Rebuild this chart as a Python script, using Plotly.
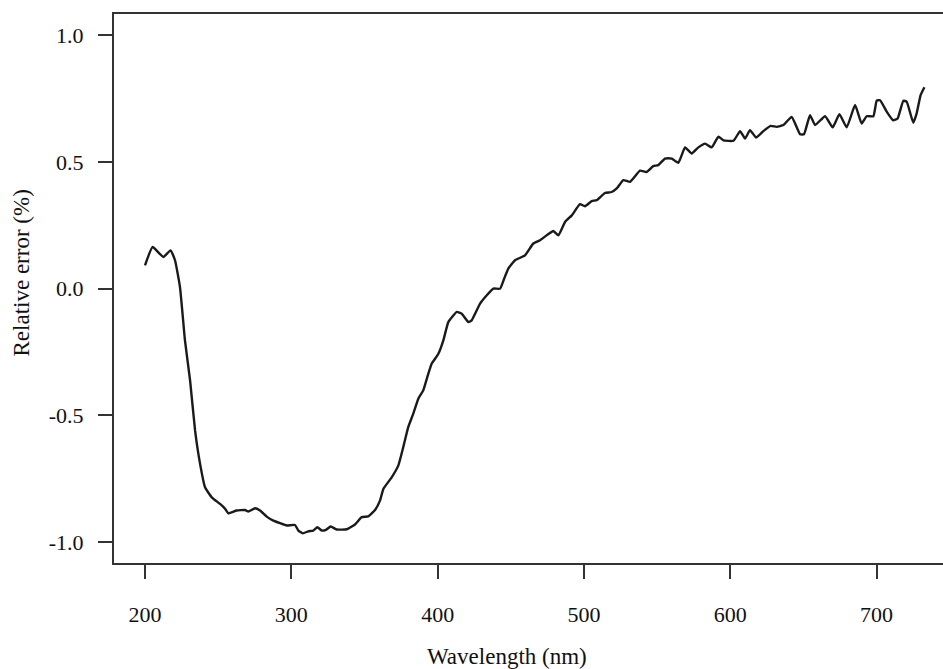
import plotly.graph_objects as go

wavelength = [200, 205.2, 212.5, 217.5, 220.5, 223.9, 227.3, 230.8, 234.2, 237.6, 241, 245.6,
              251.3, 254.7, 256.9, 262.6, 268.4, 270.6, 275.2, 278.6, 283.2, 287.7, 292.3,
              296.9, 302.5, 304.8, 307.8, 311.6, 315, 317.8, 320.8, 323.7, 326.9, 331, 337.9,
              343.5, 348.1, 352.6, 357.2, 360.6, 362.9, 368.6, 373.1, 376.5, 379.9, 383.3,
              386.8, 390.2, 393.6, 395.9, 400.5, 403.9, 407.3, 413.1, 416.5, 421, 423.3, 429,
              433.6, 438.1, 442.7, 445.5, 448.3, 452.9, 459.7, 465.4, 470, 474.5, 479.1, 482.5,
              487.1, 491.7, 497.3, 500.7, 505.3, 508.7, 514.4, 518.9, 522.4, 526.9, 531.5,
              538.3, 542.9, 547.4, 550.8, 555.4, 560, 564.5, 569.1, 573.6, 578.2, 582.8, 587.3,
              591.9, 595.3, 602.2, 606.7, 610.1, 613.5, 617.6, 622.6, 627.6, 631.7, 636.3, 642,
              647.7, 650.4, 654.5, 658, 664.8, 670, 674.6, 679.6, 685.3, 689.8, 693.2, 697.8,
              700.1, 702.4, 707, 711.3, 714.4, 718.3, 720.6, 725.1, 727.4, 730.1, 732.7]
rel_error = [0.092, 0.164, 0.125, 0.151, 0.112, 0.006, -0.204, -0.362, -0.559, -0.69, -0.783, -0.823,
             -0.849, -0.868, -0.886, -0.875, -0.873, -0.879, -0.866, -0.875, -0.899, -0.915, -0.925,
             -0.934, -0.932, -0.954, -0.965, -0.957, -0.954, -0.941, -0.954, -0.951, -0.938, -0.950, -0.949,
             -0.930, -0.901, -0.898, -0.873, -0.836, -0.790, -0.744, -0.698, -0.625, -0.546, -0.494,
             -0.434, -0.401, -0.336, -0.296, -0.257, -0.204, -0.132, -0.092, -0.099, -0.132, -0.125, -0.059,
             -0.026, 0.0, 0.0, 0.04, 0.079, 0.112, 0.131, 0.178, 0.191, 0.210, 0.227, 0.210,
             0.263, 0.289, 0.333, 0.325, 0.345, 0.349, 0.377, 0.381, 0.395, 0.428, 0.421,
             0.465, 0.460, 0.483, 0.487, 0.513, 0.513, 0.496, 0.557, 0.533, 0.557, 0.572, 0.557,
             0.599, 0.585, 0.583, 0.621, 0.592, 0.625, 0.596, 0.621, 0.642, 0.638, 0.645, 0.677,
             0.609, 0.609, 0.684, 0.645, 0.680, 0.636, 0.688, 0.636, 0.724, 0.651, 0.680, 0.680,
             0.741, 0.743, 0.697, 0.664, 0.671, 0.741, 0.737, 0.654, 0.691, 0.763, 0.794]

x_ticks = [200, 300, 400, 500, 600, 700]
x_tick_labels = ["200", "300", "400", "500", "600", "700"]
y_ticks = [1.0, 0.5, 0.0, -0.5, -1.0]
y_tick_labels = ["1.0", "0.5", "0.0", "-0.5", "-1.0"]

FONT = "Liberation Serif"
AX = "#333333"

fig = go.Figure()
fig.add_trace(go.Scatter(x=wavelength, y=rel_error, mode="lines",
                         line=dict(color="#1a1a1a", width=2.4, shape="spline", smoothing=0.4),
                         showlegend=False, hoverinfo="skip"))

fig.update_layout(
    width=943, height=669,
    margin=dict(l=114, r=0, t=14, b=106),
    paper_bgcolor="white", plot_bgcolor="white",
    font=dict(family=FONT, size=22, color="#111111"),
    xaxis=dict(range=[178.8, 745.4], tickvals=x_ticks, ticktext=x_tick_labels,
               showgrid=False, zeroline=False, showline=True, linecolor=AX, linewidth=2,
               mirror=True, ticks="outside", ticklen=14, tickwidth=2, tickcolor=AX,
               ticklabelstandoff=17),
    yaxis=dict(range=[-1.082, 1.083], tickvals=y_ticks, ticktext=y_tick_labels,
               showgrid=False, zeroline=False, showline=True, linecolor=AX, linewidth=2,
               ticks="outside", ticklen=14, tickwidth=2, tickcolor=AX,
               ticklabelstandoff=10),
    annotations=[
        dict(text="Wavelength (nm)", xref="paper", yref="paper",
             x=(507 - 114) / 829, y=-(657 - 563) / 549, xanchor="center", yanchor="middle",
             showarrow=False, font=dict(family=FONT, size=23, color="#111111")),
        dict(text="Relative error (%)", xref="paper", yref="paper",
             x=-(114 - 21) / 829, y=(563 - 273.5) / 549, xanchor="center", yanchor="middle",
             textangle=-90, showarrow=False, font=dict(family=FONT, size=23, color="#111111")),
    ],
)

fig.write_html("out.html", config={"displayModeBar": False},
               post_script="document.body.style.margin='0';document.body.style.overflow='hidden';")
